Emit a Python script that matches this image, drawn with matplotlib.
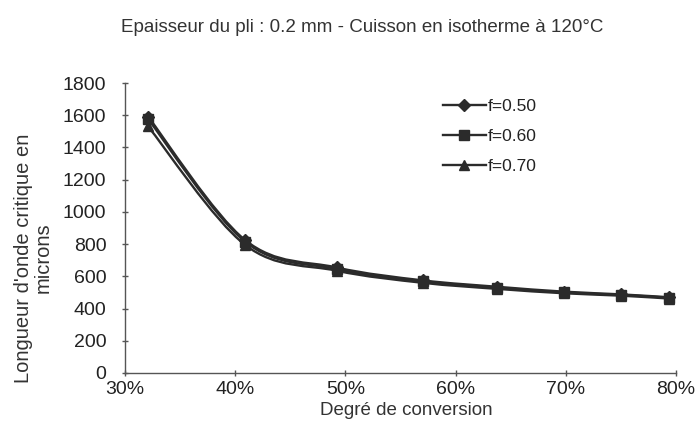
import numpy as np
import matplotlib
matplotlib.use("Agg")
from matplotlib import pyplot as plt
from matplotlib.path import Path
from matplotlib.patches import PathPatch
from matplotlib.ticker import PercentFormatter

plt.rcParams['font.family'] = ['Liberation Sans', 'DejaVu Sans']

# ===================== données =====================
conversion = [0.321, 0.409, 0.492, 0.570, 0.638, 0.698, 0.750, 0.794]
f050 = [1590, 825, 655, 575, 535, 505, 488, 470]
f060 = [1575, 815, 645, 570, 530, 500, 485, 467]
f070 = [1530, 795, 635, 560, 522, 495, 480, 462]
series = [("f=0.50", f050, "D"), ("f=0.60", f060, "s"), ("f=0.70", f070, "^")]

COLOR = "#2b2b2b"


def smooth_path(x, y):
    # courbe lissée façon Excel (Catmull-Rom -> Bézier), tracée par matplotlib
    x = np.asarray(x, float)
    y = np.asarray(y, float)
    verts = [(x[0], y[0])]
    codes = [Path.MOVETO]
    n = len(x)
    for i in range(n - 1):
        x0, y0 = (x[i - 1], y[i - 1]) if i > 0 else (x[i], y[i])
        x3, y3 = (x[i + 2], y[i + 2]) if i + 2 < n else (x[i + 1], y[i + 1])
        c1 = (x[i] + (x[i + 1] - x0) / 6, y[i] + (y[i + 1] - y0) / 6)
        c2 = (x[i + 1] - (x3 - x[i]) / 6, y[i + 1] - (y3 - y[i]) / 6)
        verts += [c1, c2, (x[i + 1], y[i + 1])]
        codes += [Path.CURVE4] * 3
    return Path(verts, codes)


fig = plt.figure(figsize=(6.96, 4.46), dpi=100)
ax = fig.add_axes([0.1796, 0.1637, 0.7917, 0.6502])

for label, vals, marker in series:
    ax.add_patch(PathPatch(smooth_path(conversion, vals), facecolor="none",
                           edgecolor=COLOR, lw=1.7))
    ax.plot(conversion, vals, linestyle="none", marker=marker, color=COLOR,
            markersize=6.5)
    # entrée de légende
    ax.plot([], [], color=COLOR, lw=1.7, marker=marker, markersize=6.5, label=label)

ax.set_xlim(0.30, 0.80)
ax.set_ylim(0, 1800)
ax.set_xticks(np.arange(0.30, 0.801, 0.10))
ax.set_yticks(np.arange(0, 1801, 200))
ax.xaxis.set_major_formatter(PercentFormatter(1.0, decimals=0))
ax.spines['top'].set_visible(False)
ax.spines['right'].set_visible(False)
for s in ('left', 'bottom'):
    ax.spines[s].set_color("#555555")
    ax.spines[s].set_linewidth(1.0)
ax.tick_params(axis='both', direction='inout', length=5, width=1, color="#555555",
               labelsize=14, labelcolor="#222222")
ax.tick_params(axis='x', pad=3)
ax.tick_params(axis='y', pad=11)

ax.set_xlabel("Degré de conversion", fontsize=13.5, color="#333333")
ax.xaxis.set_label_coords(0.51, -0.10)
ax.set_ylabel("Longueur d'onde critique en\nmicrons", fontsize=14.5, color="#333333",
              linespacing=1.05)
ax.yaxis.set_label_coords(-0.131, 0.397)
fig.text(0.52, 0.939, "Epaisseur du pli : 0.2 mm - Cuisson en isotherme à 120°C",
         ha='center', va='center', fontsize=13.5, color="#333333")

handles, labels = ax.get_legend_handles_labels()
ax.legend(handles[-3:], labels[-3:], loc='upper left', bbox_to_anchor=(0.564, 0.968),
          borderaxespad=0, frameon=False, fontsize=12.5, handlelength=2.5,
          handletextpad=0.1, labelspacing=0.85, labelcolor="#222222")

fig.savefig("out.png", dpi=100)
plt.close(fig)
